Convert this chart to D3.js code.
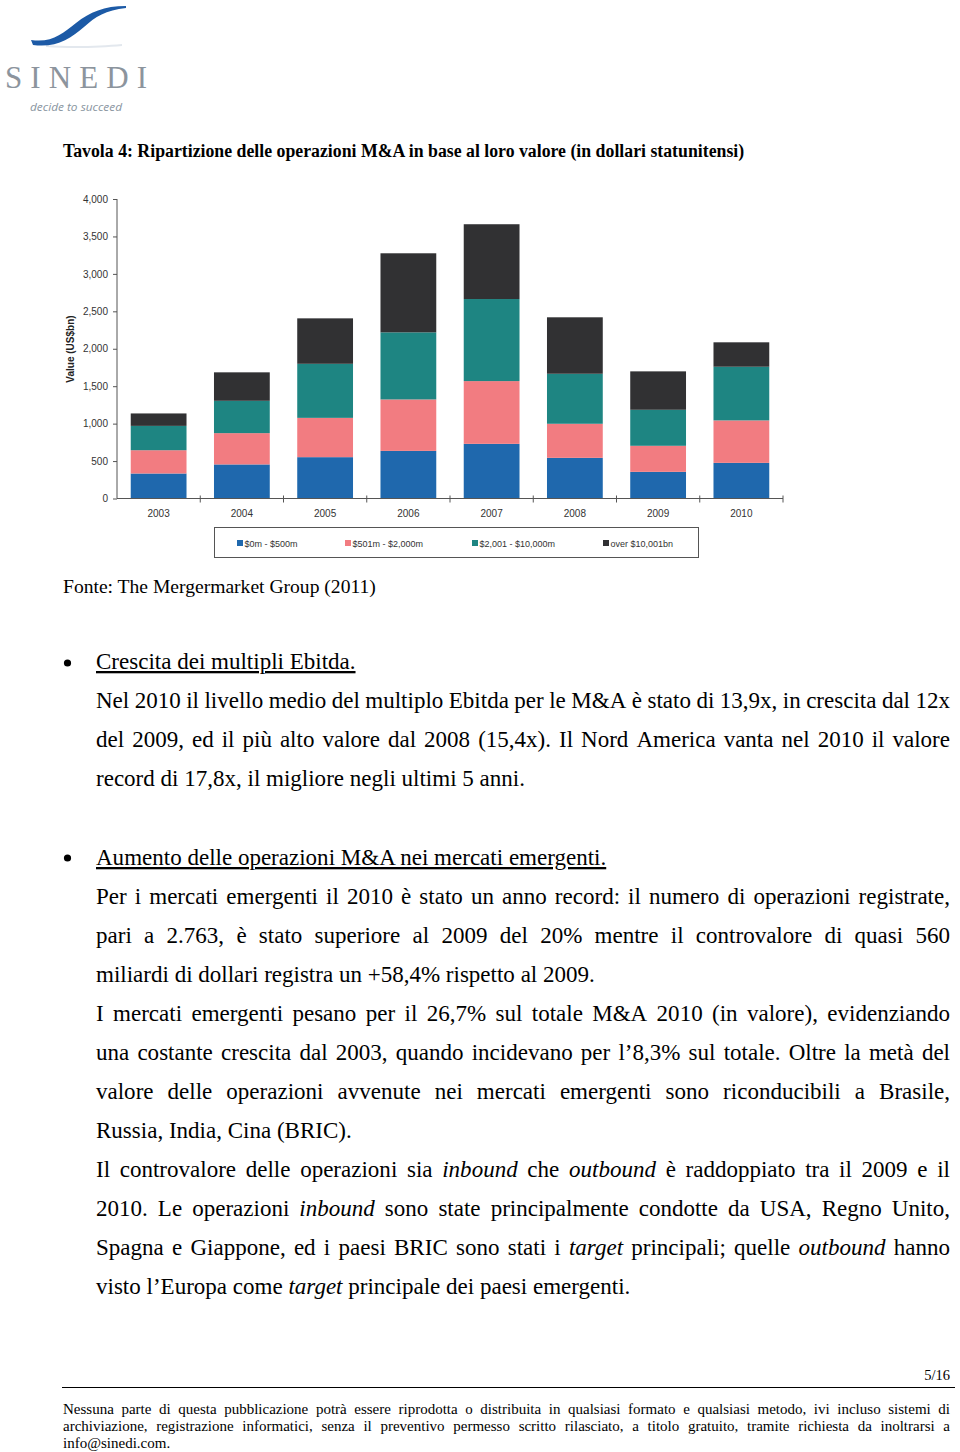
<!DOCTYPE html>
<html>
<head>
<meta charset="utf-8">
<script src="https://cdn.jsdelivr.net/npm/d3@7"></script>
<style>
  html, body { margin: 0; padding: 0; background: #fff; }
  svg { display: block; }
</style>
</head>
<body>
<script>
// ---------------- DATA ----------------
const years = ["2003", "2004", "2005", "2006", "2007", "2008", "2009", "2010"];
const seriesNames = ["$0m - $500m", "$501m - $2,000m", "$2,001 - $10,000m", "over $10,001bn"];
const small  = [334, 455, 552, 636, 730, 543, 356, 476];   // $0m - $500m
const mid    = [311, 418, 525, 687, 838, 455, 348, 567];   // $501m - $2,000m
const large  = [325, 432, 722, 896, 1096, 668, 481, 717];  // $2,001 - $10,000m
const mega   = [166, 380, 607, 1056, 999, 754, 513, 326];  // over $10,001bn
const yTicks = [0, 500, 1000, 1500, 2000, 2500, 3000, 3500, 4000];
const colors = ["#1f68ad", "#f27c81", "#1e8582", "#313133"];

const titleText = "Tavola 4: Ripartizione delle operazioni M&A in base al loro valore (in dollari statunitensi)";
const sourceText = "Fonte: The Mergermarket Group (2011)";
const heading1 = "Crescita dei multipli Ebitda.";
const heading2 = "Aumento delle operazioni M&A nei mercati emergenti.";
// [text, justified]
const para1 = [
  ["Nel 2010 il livello medio del multiplo Ebitda per le M&A è stato di 13,9x, in crescita dal 12x", true],
  ["del 2009, ed il più alto valore dal 2008 (15,4x). Il Nord America vanta nel 2010 il valore", true],
  ["record di 17,8x, il migliore negli ultimi 5 anni.", false]
];
const para2 = [
  ["Per i mercati emergenti il 2010 è stato un anno record: il numero di operazioni registrate,", true],
  ["pari a 2.763, è stato superiore al 2009 del 20% mentre il controvalore di quasi 560", true],
  ["miliardi di dollari registra un +58,4% rispetto al 2009.", false],
  ["I mercati emergenti pesano per il 26,7% sul totale M&A 2010 (in valore), evidenziando", true],
  ["una costante crescita dal 2003, quando incidevano per l’8,3% sul totale. Oltre la metà del", true],
  ["valore delle operazioni avvenute nei mercati emergenti sono riconducibili a Brasile,", true],
  ["Russia, India, Cina (BRIC).", false],
  ["Il controvalore delle operazioni sia *inbound* che *outbound* è raddoppiato tra il 2009 e il", true],
  ["2010. Le operazioni *inbound* sono state principalmente condotte da USA, Regno Unito,", true],
  ["Spagna e Giappone, ed i paesi BRIC sono stati i *target* principali; quelle *outbound* hanno", true],
  ["visto l’Europa come *target* principale dei paesi emergenti.", false]
];
const pageNumber = "5/16";
const footerLines = [
  ["Nessuna parte di questa pubblicazione potrà essere riprodotta o distribuita in qualsiasi formato e qualsiasi metodo, ivi incluso sistemi di", true],
  ["archiviazione, registrazione informatici, senza il preventivo permesso scritto rilasciato, a titolo gratuito, tramite richiesta da inoltrarsi a", true],
  ["info@sinedi.com.", false]
];

// ---------------- PAGE ----------------
const W = 960, H = 1452;
const svg = d3.select("body").append("svg").attr("width", W).attr("height", H)
  .style("font-family", "'Liberation Serif', serif");

const SERIF = "'Liberation Serif', 'DejaVu Serif', serif";
const SANS = "'Liberation Sans', Arial, sans-serif";

const measurer = svg.append("text").attr("x", -1000).attr("y", -1000).style("visibility", "hidden");
function measure(str, size, family, weight, style) {
  measurer.style("font-family", family).style("font-size", size + "px")
    .style("font-weight", weight || "normal").style("font-style", style || "normal").text(str);
  return measurer.node().getComputedTextLength();
}

// ---------------- LOGO ----------------
const logo = svg.append("g");
logo.append("path")
  .attr("d", "M46,45 C70,47 100,46 122,44 L122,46 C100,48 70,49 46,47 Z")
  .attr("fill", "#e3e8ee");
logo.append("path")
  .attr("d", "M31,40 C52,43 62,34 76,23 C90,12 104,6 126,6 L126,8 C106,10 95,17 84,27 C70,39 56,48 33,45 Z")
  .attr("fill", "#1c5aa6");
logo.append("text")
  .attr("x", 5).attr("y", 88)
  .attr("textLength", 142).attr("lengthAdjust", "spacing")
  .style("font-family", SERIF).style("font-size", "31px").style("fill", "#8c949d")
  .text("SINEDI");
logo.append("text")
  .attr("x", 30).attr("y", 111)
  .attr("textLength", 92).attr("lengthAdjust", "spacingAndGlyphs")
  .style("font-family", "'Open Sans', sans-serif").style("font-style", "italic")
  .style("font-size", "11.5px").style("fill", "#8995a0")
  .text("decide to succeed");

// ---------------- TITLE ----------------
function fitText(str, targetW, family, weight) {
  const w = measure(str, 20, family, weight);
  return 20 * targetW / w;
}
const titleSize = fitText(titleText, 682, SERIF, "bold");
svg.append("text").attr("x", 63).attr("y", 157)
  .style("font-family", SERIF).style("font-weight", "bold").style("font-size", titleSize + "px")
  .style("fill", "#000").text(titleText);

// ---------------- CHART ----------------
const x = d3.scaleBand().domain(years).range([117, 783]).paddingInner(0.33).paddingOuter(0.165);
const y = d3.scaleLinear().domain([0, 4000]).range([498.5, 199]);

const rows = years.map((yr, i) => ({ year: yr, s0: small[i], s1: mid[i], s2: large[i], s3: mega[i] }));
const stack = d3.stack().keys(["s0", "s1", "s2", "s3"]);
const layers = stack(rows);

const chart = svg.append("g");
chart.selectAll("g.layer").data(layers).join("g")
  .attr("class", "layer").attr("fill", (d, i) => colors[i])
  .selectAll("rect").data(d => d).join("rect")
  .attr("x", d => x(d.data.year))
  .attr("width", x.bandwidth())
  .attr("y", d => y(d[1]))
  .attr("height", d => y(d[0]) - y(d[1]));

// y axis
const yAxis = d3.axisLeft(y).tickValues(yTicks).tickFormat(d3.format(",")).tickSize(4).tickPadding(5);
const gy = chart.append("g").attr("transform", "translate(117,0)").call(yAxis);
gy.select(".domain").attr("stroke", "#555").attr("d", "M0," + y(4000) + "V" + y(0));
gy.selectAll(".tick line").attr("stroke", "#555");
gy.selectAll(".tick text").style("font-family", SANS).style("font-size", "10px").style("fill", "#333");

// x axis
const xAxis = d3.axisBottom(x).tickSize(0).tickPadding(11.5);
const gx = chart.append("g").attr("transform", "translate(0," + y(0) + ")").call(xAxis);
gx.select(".domain").attr("stroke", "#555").attr("d", "M117,0H783");
gx.selectAll(".tick text").style("font-family", SANS).style("font-size", "10px").style("fill", "#333");
// boundary ticks between categories
const bounds = years.map(yr => x(yr) - x.step() * x.paddingInner() / 2).concat([783]);
gx.selectAll("line.bound").data(bounds.slice(1)).join("line")
  .attr("class", "bound").attr("x1", d => d).attr("x2", d => d)
  .attr("y1", -3).attr("y2", 4).attr("stroke", "#555");

// y title
chart.append("text")
  .attr("transform", "translate(74,349) rotate(-90)")
  .attr("text-anchor", "middle")
  .style("font-family", SANS).style("font-weight", "bold").style("font-size", "10px").style("fill", "#222")
  .text("Value (US$bn)");

// legend
const lg = svg.append("g");
lg.append("rect").attr("x", 214.5).attr("y", 527.5).attr("width", 484).attr("height", 30)
  .attr("fill", "#fff").attr("stroke", "#555").attr("stroke-width", 1);
const legendX = [237, 345, 472, 603];
const li = lg.selectAll("g.item").data(seriesNames).join("g").attr("class", "item")
  .attr("transform", (d, i) => "translate(" + legendX[i] + ",0)");
li.append("rect").attr("x", 0).attr("y", 540).attr("width", 6).attr("height", 6).attr("fill", (d, i) => colors[i]);
li.append("text").attr("x", 7.5).attr("y", 546.5)
  .style("font-family", SANS).style("font-size", "9px").style("fill", "#333").text(d => d);

// ---------------- SOURCE ----------------
const srcSize = fitText(sourceText, 313, SERIF, "normal");
svg.append("text").attr("x", 63).attr("y", 593)
  .style("font-family", SERIF).style("font-size", srcSize + "px").style("fill", "#000").text(sourceText);

// ---------------- BODY ----------------
const bodyFamily = SERIF;
const calib = [["record di 17,8x, il migliore negli ultimi 5 anni.", 429],
               ["miliardi di dollari registra un +58,4% rispetto al 2009.", 511],
               ["Russia, India, Cina (BRIC).", 244]];
let sumT = 0, sumM = 0;
calib.forEach(([s, t]) => { sumT += t; sumM += measure(s, 20, bodyFamily); });
const bodySize = 20 * sumT / sumM;

function parseWords(line) {
  const out = [];
  line.split(" ").forEach(tok => {
    const m = tok.match(/^\*(.+)\*(.*)$/);
    if (m) { out.push({ w: m[1], it: true, tail: m[2] }); return; }
    out.push({ w: tok, it: false, tail: "" });
  });
  return out;
}

function drawLine(str, x0, x1, yb, size, family, justify, color) {
  const words = parseWords(str);
  const t = svg.append("text").attr("y", yb)
    .style("font-family", family).style("font-size", size + "px").style("fill", color || "#000");
  const widths = words.map(o => {
    const a = measure(o.w, size, family, "normal", o.it ? "italic" : "normal");
    const b = o.tail ? measure(o.tail, size, family) : 0;
    return [a, b];
  });
  const total = d3.sum(widths, d => d[0] + d[1]);
  const spaceW = measure("a a", size, family) - measure("aa", size, family);
  const gap = justify && words.length > 1 ? (x1 - x0 - total) / (words.length - 1) : spaceW;
  let cx = x0;
  words.forEach((o, i) => {
    t.append("tspan").attr("x", cx).style("font-style", o.it ? "italic" : "normal").text(o.w);
    cx += widths[i][0];
    if (o.tail) { t.append("tspan").attr("x", cx).text(o.tail); cx += widths[i][1]; }
    if (i < words.length - 1) { t.append("tspan").text(" ").attr("x", cx); }
    cx += gap;
  });
}

function heading(str, yb, bulletY) {
  svg.append("circle").attr("cx", 67.5).attr("cy", bulletY).attr("r", 3.6).attr("fill", "#000");
  svg.append("text").attr("x", 96).attr("y", yb)
    .style("font-family", bodyFamily).style("font-size", bodySize + "px").style("fill", "#000")
    .style("text-decoration", "underline").text(str);
}

const lh = 39;
heading(heading1, 669, 663);
para1.forEach((l, i) => drawLine(l[0], 96, 950, 708 + i * lh, bodySize, bodyFamily, l[1]));
heading(heading2, 865, 858);
para2.forEach((l, i) => drawLine(l[0], 96, 950, 904 + i * lh, bodySize, bodyFamily, l[1]));

// ---------------- FOOTER ----------------
svg.append("text").attr("x", 950).attr("y", 1380).attr("text-anchor", "end")
  .style("font-family", SERIF).style("font-size", "14.5px").style("fill", "#000").text(pageNumber);
svg.append("line").attr("x1", 62).attr("x2", 955).attr("y1", 1387.5).attr("y2", 1387.5)
  .attr("stroke", "#000").attr("stroke-width", 1.2);
footerLines.forEach((l, i) => drawLine(l[0], 63, 950, 1414 + i * 17, 15, SERIF, l[1]));

measurer.remove();
</script>
</body>
</html>
